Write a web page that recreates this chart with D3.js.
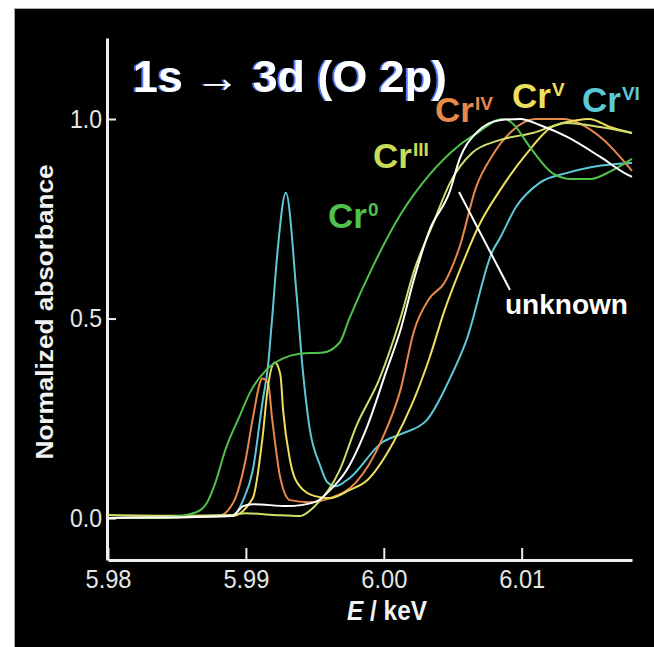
<!DOCTYPE html>
<html>
<head>
<meta charset="utf-8">
<script src="https://cdn.jsdelivr.net/npm/d3@7"></script>
<style>
  html, body { margin: 0; padding: 0; background: #fff; }
  svg { display: block; }
</style>
</head>
<body>
<svg id="chart" width="654" height="647"></svg>
<script>
// Cr K-edge XANES, normalized absorbance vs energy

// Tick values and labels
const xTicks = [5.98, 5.99, 6.00, 6.01];
const xTickLabels = ["5.98", "5.99", "6.00", "6.01"];
const yTicks = [0, 0.5, 1.0];
const yTickLabels = ["0.0", "0.5", "1.0"];

// Cr(0)
const cr0E = [5.9800, 5.9830, 5.9850, 5.9859, 5.9867, 5.9872, 5.9878, 5.9885, 5.9896, 5.9903, 5.9915, 5.9927, 5.9939, 5.9956, 5.9968, 5.9975, 5.9992, 6.0012, 6.0033, 6.0055, 6.0070, 6.0082, 6.0088, 6.0093, 6.0108, 6.0122, 6.0135, 6.0150, 6.0165, 6.0180];
const cr0A = [0.000, 0.000, 0.004, 0.010, 0.020, 0.040, 0.090, 0.170, 0.260, 0.315, 0.372, 0.400, 0.412, 0.415, 0.440, 0.500, 0.630, 0.760, 0.860, 0.935, 0.970, 0.997, 1.000, 0.990, 0.920, 0.865, 0.850, 0.850, 0.870, 0.900];

// Cr(III)
const cr3E = [5.9800, 5.9850, 5.9890, 5.9900, 5.9920, 5.9939, 5.9950, 5.9968, 5.9980, 5.9997, 6.0012, 6.0022, 6.0036, 6.0048, 6.0064, 6.0084, 6.0108, 6.0133, 6.0157, 6.0180];
const cr3A = [0.008, 0.006, 0.008, 0.012, 0.008, 0.005, 0.030, 0.120, 0.230, 0.350, 0.500, 0.620, 0.740, 0.840, 0.915, 0.947, 0.965, 0.990, 0.980, 0.965];

// Cr(IV)
const cr4E = [5.9800, 5.9880, 5.9891, 5.9900, 5.9905, 5.9912, 5.9916, 5.9919, 5.9925, 5.9932, 5.9946, 5.9961, 5.9980, 5.9999, 6.0012, 6.0022, 6.0033, 6.0044, 6.0055, 6.0067, 6.0079, 6.0093, 6.0110, 6.0130, 6.0157, 6.0180];
const cr4A = [0.000, 0.005, 0.040, 0.150, 0.250, 0.350, 0.340, 0.250, 0.100, 0.045, 0.040, 0.050, 0.090, 0.200, 0.320, 0.470, 0.550, 0.590, 0.680, 0.830, 0.910, 0.970, 1.000, 1.000, 0.955, 0.870];

// Cr(V)
const cr5E = [5.9800, 5.9890, 5.9905, 5.9912, 5.9916, 5.9921, 5.9925, 5.9927, 5.9932, 5.9939, 5.9950, 5.9961, 5.9975, 5.9988, 6.0007, 6.0021, 6.0033, 6.0044, 6.0055, 6.0070, 6.0084, 6.0104, 6.0122, 6.0140, 6.0149, 6.0164, 6.0180];
const cr5A = [0.000, 0.005, 0.050, 0.200, 0.330, 0.390, 0.360, 0.270, 0.145, 0.080, 0.055, 0.050, 0.070, 0.095, 0.190, 0.290, 0.400, 0.520, 0.620, 0.740, 0.820, 0.915, 0.980, 0.997, 1.000, 0.980, 0.965];

// Cr(VI)
const cr6E = [5.9800, 5.9890, 5.9898, 5.9905, 5.9912, 5.9916, 5.9919, 5.9923, 5.9929, 5.9937, 5.9941, 5.9946, 5.9954, 5.9959, 5.9965, 5.9975, 5.9999, 6.0012, 6.0031, 6.0048, 6.0060, 6.0079, 6.0084, 6.0096, 6.0113, 6.0133, 6.0151, 6.0180];
const cr6A = [0.000, 0.005, 0.045, 0.120, 0.290, 0.380, 0.500, 0.670, 0.815, 0.550, 0.380, 0.230, 0.130, 0.090, 0.080, 0.100, 0.190, 0.210, 0.245, 0.350, 0.446, 0.670, 0.700, 0.780, 0.840, 0.865, 0.880, 0.890];

// unknown sample
const unkE = [5.9800, 5.9890, 5.9898, 5.9905, 5.9930, 5.9950, 5.9961, 5.9973, 5.9988, 6.0002, 6.0012, 6.0022, 6.0033, 6.0048, 6.0055, 6.0067, 6.0084, 6.0099, 6.0113, 6.0133, 6.0157, 6.0177, 6.0180];
const unkA = [0.000, 0.005, 0.030, 0.035, 0.030, 0.040, 0.070, 0.120, 0.230, 0.370, 0.470, 0.600, 0.720, 0.820, 0.900, 0.965, 0.997, 1.000, 0.985, 0.955, 0.905, 0.860, 0.855];

const seriesNames = ["Cr6", "Cr4", "Cr5", "Cr3", "Cr0", "unknown"];
const seriesColors = ["#5cc8d8", "#e8884a", "#ece05c", "#d2de6c", "#50c24c", "#ffffff"];
const seriesE = [cr6E, cr4E, cr5E, cr3E, cr0E, unkE];
const seriesA = [cr6A, cr4A, cr5A, cr3A, cr0A, unkA];

const svg = d3.select("#chart");

// blue fringe for the title
const defs = svg.append("defs");
defs.append("filter")
    .attr("id", "fringe")
    .attr("x", "-10%").attr("y", "-20%")
    .attr("width", "120%").attr("height", "140%")
  .append("feDropShadow")
    .attr("dx", -2).attr("dy", 0)
    .attr("stdDeviation", 0.6)
    .attr("flood-color", "#4a78ff")
    .attr("flood-opacity", 1);

// black panel
svg.append("rect")
    .attr("x", 14.5).attr("y", 8.5)
    .attr("width", 645).attr("height", 645)
    .attr("fill", "#000")
    .attr("stroke", "#aaa").attr("stroke-width", 1);

const x = d3.scaleLinear().domain([5.98, 6.018]).range([108, 632]);
const y = d3.scaleLinear().domain([-0.105, 1.203]).range([560, 38]);

const font = "'Liberation Sans', Arial, sans-serif";

// x axis
const xAxis = svg.append("g")
    .attr("transform", "translate(0,560)")
    .call(d3.axisBottom(x).tickValues(xTicks)
        .tickFormat((d, i) => xTickLabels[i])
        .tickSizeInner(-12).tickSizeOuter(0).tickPadding(10));

// y axis
const yAxis = svg.append("g")
    .attr("transform", "translate(107,0)")
    .call(d3.axisLeft(y).tickValues(yTicks)
        .tickFormat((d, i) => yTickLabels[i])
        .tickSizeInner(-9).tickSizeOuter(0).tickPadding(5));

[xAxis, yAxis].forEach(g => {
    g.select(".domain").attr("stroke", "#eee").attr("stroke-width", 3);
    g.selectAll(".tick line").attr("stroke", "#eee").attr("stroke-width", 2);
    g.selectAll(".tick text")
        .attr("fill", "#e6e6e6")
        .attr("font-family", font)
        .attr("font-size", 26)
        .attr("lengthAdjust", "spacingAndGlyphs");
});
xAxis.selectAll(".tick text").attr("textLength", 46);
yAxis.selectAll(".tick text").attr("textLength", 32);

// axis titles
svg.append("text")
    .attr("transform", "translate(53,312) rotate(-90)")
    .attr("text-anchor", "middle")
    .attr("fill", "#f2f2f2")
    .attr("font-family", font)
    .attr("font-weight", "bold")
    .attr("font-size", 24)
    .attr("textLength", 295)
    .attr("lengthAdjust", "spacingAndGlyphs")
    .text("Normalized absorbance");

const xTitle = svg.append("text")
    .attr("x", 387).attr("y", 620)
    .attr("text-anchor", "middle")
    .attr("fill", "#f2f2f2")
    .attr("font-family", font)
    .attr("font-weight", "bold")
    .attr("font-size", 27)
    .attr("textLength", 80)
    .attr("lengthAdjust", "spacingAndGlyphs");
xTitle.append("tspan").attr("font-style", "italic").text("E");
xTitle.append("tspan").text(" / keV");

// title
svg.append("text")
    .attr("x", 133).attr("y", 92)
    .attr("fill", "#fff")
    .attr("filter", "url(#fringe)")
    .attr("font-family", font)
    .attr("font-weight", "bold")
    .attr("font-size", 44)
    .attr("textLength", 314)
    .attr("lengthAdjust", "spacingAndGlyphs")
    .text("1s \u2192 3d (O 2p)");

// curves
const line = d3.line()
    .x(d => x(d[0]))
    .y(d => y(d[1]))
    .curve(d3.curveMonotoneX);

seriesNames.forEach((name, i) => {
    const pts = seriesE[i].map((e, j) => [e, seriesA[i][j]]);
    svg.append("path")
        .datum(pts)
        .attr("fill", "none")
        .attr("stroke", seriesColors[i])
        .attr("stroke-width", 2)
        .attr("d", line);
});

// pointer for "unknown"
svg.append("line")
    .attr("x1", 459).attr("y1", 192)
    .attr("x2", 510).attr("y2", 290)
    .attr("stroke", "#fff").attr("stroke-width", 2);

svg.append("text")
    .attr("x", 505).attr("y", 314)
    .attr("fill", "#fff")
    .attr("font-family", font)
    .attr("font-size", 28)
    .attr("font-weight", 600)
    .attr("textLength", 123)
    .attr("lengthAdjust", "spacingAndGlyphs")
    .text("unknown");

// oxidation state labels
const labelText = ["Cr", "Cr", "Cr", "Cr", "Cr"];
const labelSup = ["0", "III", "IV", "V", "VI"];
const labelColors = ["#50c24c", "#c8dc5a", "#e8884a", "#ece05c", "#5cc8d8"];
const labelX = [328, 373, 435, 512, 582];
const labelY = [228, 168, 122, 108, 112];

labelText.forEach((t, i) => {
    const txt = svg.append("text")
        .attr("x", labelX[i]).attr("y", labelY[i])
        .attr("fill", labelColors[i])
        .attr("font-family", font)
        .attr("font-weight", "bold")
        .attr("font-size", 35);
    txt.append("tspan").text(t);
    txt.append("tspan")
        .attr("font-size", 19)
        .attr("dx", 1)
        .attr("dy", -12)
        .text(labelSup[i]);
});
</script>
</body>
</html>
